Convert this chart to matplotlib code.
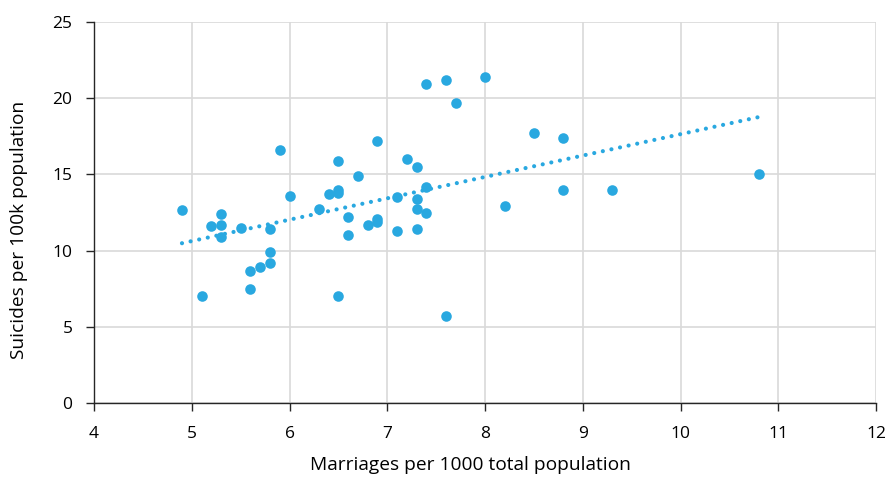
import numpy as np
import matplotlib.pyplot as plt

plt.rcParams['font.family'] = ['Open Sans', 'DejaVu Sans']

# marriage rate vs suicide rate, one point per country
marriages = [4.9, 5.1, 5.2, 5.3, 5.3, 5.3, 5.5, 5.6, 5.6, 5.7, 5.8, 5.8, 5.8,
             5.9, 6.0, 6.3, 6.4, 6.5, 6.5, 6.5, 6.5, 6.6, 6.6, 6.7, 6.8, 6.9,
             6.9, 6.9, 7.1, 7.1, 7.2, 7.3, 7.3, 7.3, 7.3, 7.4, 7.4, 7.4, 7.6,
             7.6, 7.7, 8.0, 8.2, 8.5, 8.8, 8.8, 9.3, 10.8]
suicides = [12.66, 7.0, 11.6, 12.4, 11.7, 10.9, 11.5, 8.66, 7.5, 8.9, 9.9, 9.2,
            11.4, 16.6, 13.6, 12.7, 13.7, 14.0, 13.8, 15.9, 7.0, 12.2, 11.0,
            14.9, 11.7, 11.9, 12.1, 17.2, 11.3, 13.5, 16.0, 15.5, 13.4, 12.7,
            11.4, 14.2, 12.5, 20.9, 21.2, 5.7, 19.7, 21.4, 12.9, 17.7, 17.4,
            14.0, 14.0, 15.0]

x = np.array(marriages)
y = np.array(suicides)
color = '#29a8e0'

fig = plt.figure(figsize=(8.89, 4.78), dpi=100)
ax = fig.add_axes([94 / 889, 1 - 403 / 478, (876 - 94) / 889, (403 - 22) / 478])

ax.scatter(x, y, s=58, color=color, zorder=3, linewidths=0)

# linear trendline, drawn as round dots
slope, intercept = np.polyfit(x, y, 1)
xs = np.array([x.min(), x.max()])
ax.plot(xs, slope * xs + intercept, linestyle=(0, (0.01, 2.1)), linewidth=3,
        color=color, zorder=2, dash_capstyle='round')

ax.set_xlim(4, 12)
ax.set_ylim(0, 25)
ax.set_xticks(range(4, 13))
ax.set_yticks(range(0, 26, 5))
ax.grid(True, color='#d9d9d9', linewidth=1.2)
ax.set_axisbelow(True)
for side in ['top', 'right']:
    ax.spines[side].set_visible(False)
for side in ['left', 'bottom']:
    ax.spines[side].set_color('#262626')
    ax.spines[side].set_linewidth(1.0)
    ax.spines[side].set_zorder(2.5)
ax.tick_params(length=5.5, width=1.0, color='#262626', labelsize=12.5,
               colors='#262626')
ax.tick_params(axis='y', pad=10)
ax.tick_params(axis='x', pad=11)
for lab in ax.get_xticklabels() + ax.get_yticklabels():
    lab.set_color('#000000')

ax.set_xlabel('Marriages per 1000 total population', fontsize=13.8)
ax.set_ylabel('Suicides per 100k population', fontsize=13.8)
ax.xaxis.set_label_coords(0.482, -0.14)
ax.yaxis.set_label_coords(-0.085, 0.455)

fig.savefig('out.png', dpi=100)
